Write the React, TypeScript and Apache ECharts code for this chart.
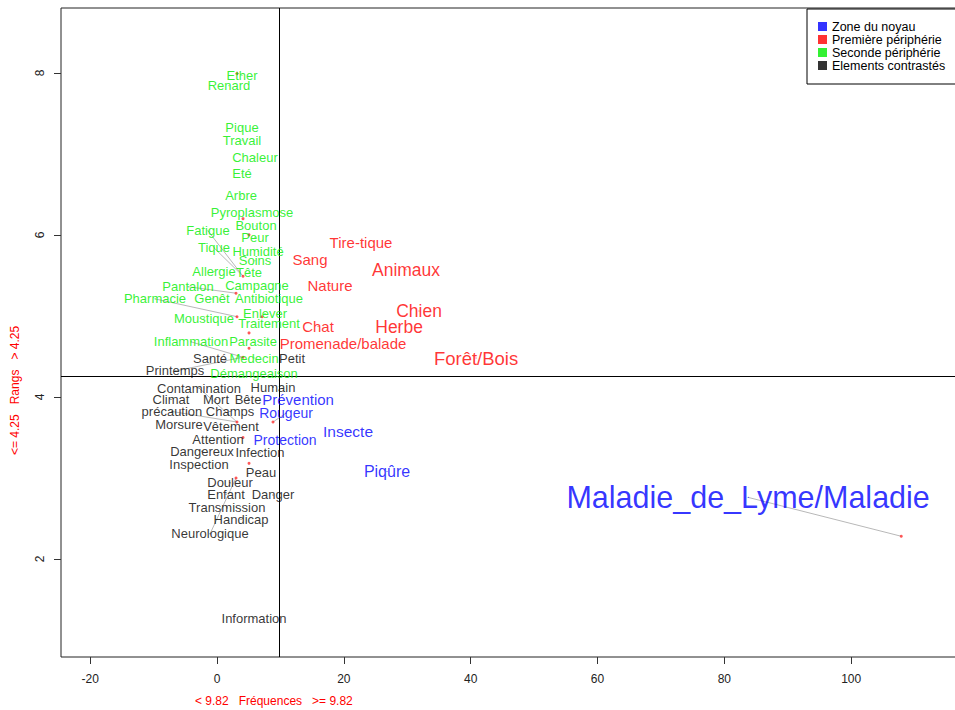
import React, { useEffect, useRef } from "react";
import * as echarts from "echarts";

// axis ticks
const xTicks = [-20, 0, 20, 40, 60, 80, 100];
const yTicks = [2, 4, 6, 8];
const cutFreq = 9.82;
const cutRang = 4.25;

// [word, x (fréquence, label position), y (rang, label position), font size]
const zoneNoyau: [string, number, number, number][] = [
  ["Prévention", 12.78, 3.97, 15],
  ["Rougeur", 10.88, 3.8, 14],
  ["Protection", 10.73, 3.47, 14],
  ["Insecte", 20.66, 3.57, 15.5],
  ["Piqûre", 26.81, 3.08, 16],
  ["Maladie_de_Lyme/Maladie", 83.75, 2.76, 30.5],
];

const premierePeripherie: [string, number, number, number][] = [
  ["Tire-tique", 22.71, 5.9, 15],
  ["Sang", 14.67, 5.69, 15],
  ["Animaux", 29.81, 5.57, 17.5],
  ["Nature", 17.82, 5.37, 15],
  ["Chien", 31.86, 5.06, 17.5],
  ["Herbe", 28.71, 4.86, 17.5],
  ["Chat", 15.93, 4.87, 15],
  ["Promenade/balade", 19.87, 4.66, 15],
  ["Forêt/Bois", 40.85, 4.48, 18.5],
];

const secondePeripherie: [string, number, number, number][] = [
  ["Ether", 3.94, 7.97, 13],
  ["Renard", 1.89, 7.84, 13],
  ["Pique", 3.94, 7.32, 13],
  ["Travail", 3.94, 7.17, 13],
  ["Chaleur", 5.99, 6.96, 13],
  ["Eté", 3.94, 6.76, 13],
  ["Arbre", 3.79, 6.48, 13],
  ["Pyroplasmose", 5.52, 6.27, 13],
  ["Bouton", 6.15, 6.11, 13],
  ["Fatigue", -1.42, 6.05, 13],
  ["Peur", 5.99, 5.97, 13],
  ["Tique", -0.47, 5.84, 13],
  ["Humidité", 6.47, 5.8, 13],
  ["Soins", 5.99, 5.68, 13],
  ["Allergie", -0.47, 5.55, 13],
  ["Tête", 5.05, 5.54, 13],
  ["Campagne", 6.31, 5.38, 13],
  ["Pantalon", -4.57, 5.36, 13],
  ["Pharmacie", -9.78, 5.21, 13],
  ["Genêt", -0.79, 5.21, 13],
  ["Antibiotique", 8.2, 5.22, 13],
  ["Enlever", 7.57, 5.03, 13],
  ["Moustique", -2.05, 4.97, 13],
  ["Traitement", 8.2, 4.9, 13],
  ["Inflammation", -4.1, 4.68, 13],
  ["Parasite", 5.68, 4.68, 13],
  ["Medecin", 5.84, 4.48, 13],
  ["Démangeaison", 5.84, 4.29, 13],
];

const elementsContrastes: [string, number, number, number][] = [
  ["Santé", -1.1, 4.47, 13],
  ["Petit", 11.83, 4.47, 13],
  ["Printemps", -6.62, 4.32, 13],
  ["Humain", 8.83, 4.12, 13],
  ["Contamination", -2.84, 4.11, 13],
  ["Climat", -7.26, 3.97, 13],
  ["Mort", -0.16, 3.97, 13],
  ["Bête", 4.89, 3.97, 13],
  ["précaution", -7.1, 3.82, 13],
  ["Champs", 2.05, 3.82, 13],
  ["Morsure", -5.99, 3.66, 13],
  ["Vêtement", 2.21, 3.63, 13],
  ["Attention", 0.16, 3.48, 13],
  ["Dangereux", -2.37, 3.33, 13],
  ["Infection", 6.78, 3.31, 13],
  ["Inspection", -2.84, 3.16, 13],
  ["Peau", 6.94, 3.07, 13],
  ["Douleur", 2.05, 2.94, 13],
  ["Enfant", 1.42, 2.8, 13],
  ["Danger", 8.83, 2.79, 13],
  ["Transmission", 1.58, 2.63, 13],
  ["Handicap", 3.79, 2.49, 13],
  ["Neurologique", -1.1, 2.31, 13],
  ["Information", 5.84, 1.27, 13],
];

// actual positions (small red marks) of displaced words
const pointX = [107.9, 3.15, 4.1, 5.05, 4.1, 3.0, 3.15, 7.1, 5.05, 5.05, 4.1, 3.15, 8.83, 4.1, 5.05, 3.0];
const pointY = [2.28, 7.99, 6.2, 6.0, 5.49, 5.28, 4.99, 4.99, 4.79, 4.6, 4.49, 3.69, 3.69, 3.5, 3.18, 3.0];

// word -> index of its point
const links: [string, number][] = [
  ["Maladie_de_Lyme/Maladie", 0],
  ["Pharmacie", 6],
  ["Pantalon", 5],
  ["Fatigue", 4],
  ["Tique", 4],
  ["Rougeur", 12],
  ["Neurologique", 15],
  ["Inflammation", 10],
  ["Contamination", 11],
  ["précaution", 11],
  ["Printemps", 10],
];

const FONT = "'Liberation Sans', Arial, sans-serif";

export default function App() {
  const ref = useRef<HTMLDivElement>(null);

  useEffect(() => {
    document.body.style.margin = "0";
    if (!ref.current) return;
    const chart = echarts.init(ref.current, undefined, { renderer: "svg" });

    const allWords = [...zoneNoyau, ...premierePeripherie, ...secondePeripherie, ...elementsContrastes];
    const find = (n: string) => allWords.find((w) => w[0] === n)!;

    const wordSeries = (name: string, color: string, words: [string, number, number, number][]) => ({
      name,
      type: "scatter",
      symbolSize: 1,
      z: 5,
      itemStyle: { color },
      label: {
        show: true,
        position: "inside",
        color,
        fontFamily: FONT,
        formatter: (p: any) => p.name,
      },
      data: words.map((w) => ({ name: w[0], value: [w[1], w[2]], label: { fontSize: w[3] } })),
    });

    chart.setOption({
      animation: false,
      textStyle: { fontFamily: FONT },
      grid: {
        left: 61,
        top: 8,
        width: 917,
        height: 649,
        outerBoundsMode: "none",
        containLabel: false,
        show: true,
        borderColor: "#222",
        borderWidth: 1,
        backgroundColor: "transparent",
      },
      legend: {
        orient: "vertical",
        left: 807,
        top: 9,
        padding: [11, 40, 12, 11],
        itemWidth: 9,
        itemHeight: 9,
        itemGap: 0,
        borderColor: "#000",
        borderWidth: 1,
        borderRadius: 0,
        backgroundColor: "#fff",
        textStyle: { fontSize: 12.5, color: "#000", fontFamily: FONT, lineHeight: 12 },
        data: [
          { name: "Zone du noyau", icon: "rect" },
          { name: "Première périphérie", icon: "rect" },
          { name: "Seconde périphérie", icon: "rect" },
          { name: "Elements contrastés", icon: "rect" },
        ],
      },
      xAxis: {
        type: "value",
        min: -24.6,
        max: 120,
        axisLine: { show: false, onZero: false },
        splitLine: { show: false },
        axisTick: {
          show: true,
          length: 7,
          customValues: xTicks,
          lineStyle: { color: "#333" },
        },
        axisLabel: {
          customValues: xTicks,
          margin: 16,
          fontSize: 12,
          color: "#222",
          fontFamily: FONT,
        },
      },
      yAxis: {
        type: "value",
        min: 0.79,
        max: 8.8,
        axisLine: { show: false, onZero: false },
        splitLine: { show: false },
        axisTick: {
          show: true,
          length: 7,
          customValues: yTicks,
          lineStyle: { color: "#333" },
        },
        axisLabel: {
          customValues: yTicks,
          rotate: 90,
          margin: 15,
          fontSize: 12,
          color: "#222",
          fontFamily: FONT,
        },
      },
      graphic: [
        {
          type: "text",
          left: 195,
          top: 695,
          style: {
            text: "< 9.82   Fréquences   >= 9.82",
            fill: "#ff0000",
            fontSize: 12,
            fontFamily: FONT,
          },
        },
        {
          type: "text",
          x: 9,
          y: 455,
          rotation: Math.PI / 2,
          style: {
            text: "<= 4.25   Rangs   > 4.25",
            fill: "#ff0000",
            fontSize: 12,
            fontFamily: FONT,
          },
        },
      ],
      series: [
        {
          name: "links",
          type: "lines",
          coordinateSystem: "cartesian2d",
          silent: true,
          z: 1,
          lineStyle: { color: "#b8b8b8", width: 1, opacity: 1 },
          data: links.map(([w, i]) => {
            const word = find(w);
            return { coords: [[word[1], word[2]], [pointX[i], pointY[i]]] };
          }),
        },
        {
          name: "points",
          type: "scatter",
          silent: true,
          symbol: "circle",
          symbolSize: 3,
          z: 2,
          itemStyle: { color: "#ff3030" },
          data: pointX.map((x, i) => [x, pointY[i]]),
        },
        {
          name: "cuts",
          type: "line",
          data: [],
          silent: true,
          markLine: {
            silent: true,
            symbol: "none",
            label: { show: false },
            lineStyle: { color: "#000", type: "solid", width: 1 },
            data: [{ xAxis: cutFreq }, { yAxis: cutRang }],
          },
        },
        wordSeries("Zone du noyau", "#0000ff", zoneNoyau),
        wordSeries("Première périphérie", "#ff0000", premierePeripherie),
        wordSeries("Seconde périphérie", "#00ee00", secondePeripherie),
        wordSeries("Elements contrastés", "#000000", elementsContrastes),
      ],
    });

    return () => chart.dispose();
  }, []);

  return <div ref={ref} style={{ width: 955, height: 710 }} />;
}
